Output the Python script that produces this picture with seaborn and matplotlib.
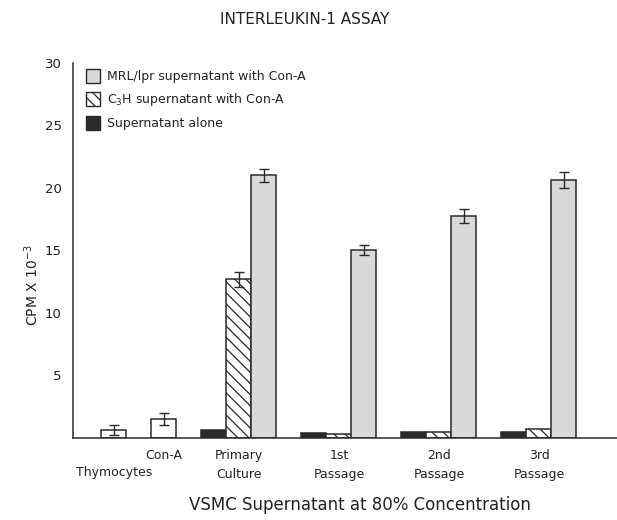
"""
Interleukin-1 assay bar chart (VSMC supernatant at 80% concentration)
"""

import numpy as np
import pandas as pd
import matplotlib
matplotlib.use("Agg")
import matplotlib.pyplot as plt
from matplotlib.patches import Patch
import seaborn as sns

sns.set_theme(style="white")
plt.rcParams.update({
    "font.family": ["DejaVu Sans"],
    "text.color": "#222222",
    "axes.labelcolor": "#222222",
    "xtick.color": "#222222",
    "ytick.color": "#222222",
    "hatch.linewidth": 0.9,
})

# ── Data (CPM x 10^-3) ───────────────────────────────
groups = ["Thymocytes", "Con-A", "Primary Culture", "1st Passage", "2nd Passage", "3rd Passage"]
tick_labels = ["Thymocytes", "Con-A", "Primary\nCulture", "1st\nPassage", "2nd\nPassage", "3rd\nPassage"]

control = [0.6, 1.5, np.nan, np.nan, np.nan, np.nan]
control_err = [0.4, 0.5, np.nan, np.nan, np.nan, np.nan]
alone = [np.nan, np.nan, 0.6, 0.4, 0.45, 0.45]
alone_err = [np.nan] * 6
c3h = [np.nan, np.nan, 12.7, 0.3, 0.45, 0.7]
c3h_err = [np.nan, np.nan, 0.6, np.nan, np.nan, np.nan]
mrl = [np.nan, np.nan, 21.0, 15.05, 17.75, 20.65]
mrl_err = [np.nan, np.nan, 0.5, 0.4, 0.55, 0.65]

series_names = ["Control", "Supernatant alone",
                "C$_3$H supernatant with Con-A", "MRL/lpr supernatant with Con-A"]

# layout: group centres on the x axis and bar offset inside a group
group_pos = {"Thymocytes": -2.5, "Con-A": -1.5, "Primary Culture": 0.0,
             "1st Passage": 2.0, "2nd Passage": 4.0, "3rd Passage": 6.0}
offset = {"Control": 0.0, "Supernatant alone": -0.5,
          "C$_3$H supernatant with Con-A": 0.0, "MRL/lpr supernatant with Con-A": 0.5}

rows = []
for name, vals, errs in zip(series_names, [control, alone, c3h, mrl],
                            [control_err, alone_err, c3h_err, mrl_err]):
    for g, v, e in zip(groups, vals, errs):
        if np.isnan(v):
            continue
        rows.append({"group": g, "series": name, "value": v, "err": e,
                     "x": group_pos[g] + offset[name]})
df = pd.DataFrame(rows)

HATCH = "\\\\\\"
styles = {
    "Control": dict(fc="white", hatch=None),
    "Supernatant alone": dict(fc="#2b2b2b", hatch=None),
    "C$_3$H supernatant with Con-A": dict(fc="white", hatch=HATCH),
    "MRL/lpr supernatant with Con-A": dict(fc="#d9d9d9", hatch=None),
}

fig = plt.figure(figsize=(6.17, 5.2), dpi=100)
ax = fig.add_axes([0.1183, 0.1577, 0.8817, 0.7212])

sns.barplot(data=df, x="x", y="value", hue="series", hue_order=series_names,
            native_scale=True, dodge=False, width=1.0,
            palette={k: v["fc"] for k, v in styles.items()},
            edgecolor="#2a2a2a", linewidth=1.1, saturation=1, legend=False, ax=ax)

for name, cont in zip(series_names, ax.containers):
    for bar in cont:
        bar.set_facecolor(styles[name]["fc"])
        if styles[name]["hatch"]:
            bar.set_hatch(styles[name]["hatch"])

# error bars
err_df = df.dropna(subset=["err"])
ax.errorbar(err_df["x"], err_df["value"], yerr=err_df["err"], fmt="none",
            ecolor="#2a2a2a", elinewidth=1.0, capsize=3.5, capthick=1.0, zorder=5)

ax.set_ylim(0, 30)
ax.set_xlim(-3.32, 7.56)
ax.set_yticks([5, 10, 15, 20, 25, 30])
ax.set_xticks([group_pos[g] for g in groups])
ax.set_xticklabels(tick_labels, fontsize=9, linespacing=1.6)
ax.tick_params(axis="x", length=0, pad=8)
ax.tick_params(axis="y", direction="in", length=6, width=1.0, pad=8, labelsize=9.5)
# Thymocytes label sits one line lower than Con-A
ax.xaxis.get_major_ticks()[0].set_pad(20)
ax.set_xlabel("")
ax.set_ylabel("")
for s in ["top", "right"]:
    ax.spines[s].set_visible(False)
for s in ["left", "bottom"]:
    ax.spines[s].set_color("#2a2a2a")
    ax.spines[s].set_linewidth(1.1)

# legend
handles = [
    Patch(facecolor=styles["MRL/lpr supernatant with Con-A"]["fc"], edgecolor="#2a2a2a",
          label="MRL/lpr supernatant with Con-A"),
    Patch(facecolor="white", edgecolor="#2a2a2a", hatch=HATCH,
          label="C$_3$H supernatant with Con-A"),
    Patch(facecolor=styles["Supernatant alone"]["fc"], edgecolor="#2a2a2a",
          label="Supernatant alone"),
]
ax.legend(handles=handles, loc="upper left", bbox_to_anchor=(0.012, 1.0),
          frameon=False, fontsize=9, handlelength=1.1, handleheight=1.35,
          handletextpad=0.6, labelspacing=0.62, borderpad=0)

fig.text(0.494, 0.962, "INTERLEUKIN-1 ASSAY", ha="center", va="center", fontsize=11)
fig.text(0.052, 0.452, "CPM X 10$^{-3}$", ha="center", va="center", rotation=90, fontsize=10)
fig.text(0.583, 0.029, "VSMC Supernatant at 80% Concentration",
         ha="center", va="center", fontsize=12)

fig.savefig("out.png", dpi=100)
